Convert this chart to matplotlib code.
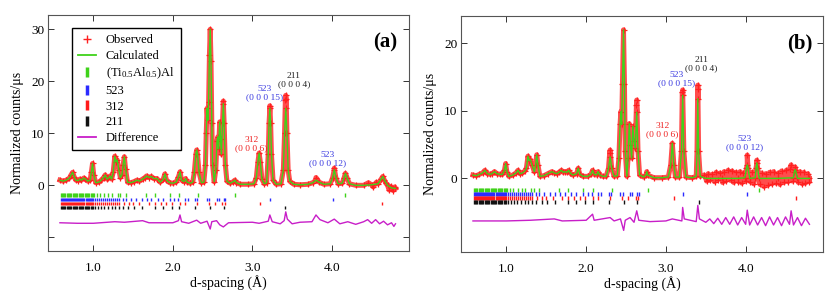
import matplotlib
matplotlib.use("Agg")
import matplotlib.pyplot as plt
from matplotlib.lines import Line2D

plt.rcParams['font.family'] = ['Liberation Serif', 'DejaVu Serif']
plt.rcParams['mathtext.fontset'] = 'custom'
plt.rcParams['mathtext.rm'] = 'Liberation Serif'
plt.rcParams['mathtext.it'] = 'Liberation Serif:italic'
plt.rcParams['mathtext.bf'] = 'Liberation Serif:bold'

# ---------------- data ----------------
# Panel (a): calculated profile (d-spacing, counts)
calc_a = [(0.58, 1.0), (0.62, 0.8), (0.66, 1.0), (0.70, 1.4), (0.72, 2.0), (0.74, 2.5), (0.76, 1.6),
          (0.78, 1.0), (0.81, 0.9), (0.83, 1.2), (0.85, 1.0), (0.88, 1.4), (0.90, 1.2), (0.93, 0.8),
          (0.96, 1.0), (0.975, 2.5), (0.99, 4.2), (1.005, 2.0), (1.03, 0.5), (1.07, 0.6), (1.10, 1.0),
          (1.13, 1.5), (1.15, 2.0), (1.17, 1.2), (1.19, 1.4), (1.21, 1.8), (1.23, 1.2), (1.25, 2.5),
          (1.27, 5.6), (1.285, 4.5), (1.30, 4.9), (1.32, 3.0), (1.34, 1.5), (1.36, 2.0), (1.375, 4.0),
          (1.39, 5.5), (1.405, 3.2), (1.43, 0.6), (1.47, 0.5), (1.51, 0.7), (1.55, 1.0), (1.58, 0.8),
          (1.62, 1.2), (1.65, 1.5), (1.67, 1.8), (1.70, 1.5), (1.73, 1.7), (1.76, 1.3), (1.80, 1.3),
          (1.84, 0.6), (1.88, 1.2), (1.90, 2.2), (1.92, 1.0), (1.96, 0.5), (2.00, 0.4), (2.04, 0.6),
          (2.07, 1.6), (2.09, 2.6), (2.11, 1.0), (2.14, 0.7), (2.16, 1.3), (2.18, 0.6), (2.22, 0.4),
          (2.25, 0.6), (2.27, 2.5), (2.29, 6.0), (2.30, 6.8), (2.31, 6.0), (2.33, 2.5), (2.36, 0.5),
          (2.39, 0.6), (2.41, 4.0), (2.42, 10.0), (2.43, 14.8), (2.44, 12.5), (2.45, 16.0), (2.46, 25.0),
          (2.47, 30.0), (2.48, 24.0), (2.49, 12.0), (2.50, 4.0), (2.52, 0.7), (2.54, 3.0), (2.555, 8.5),
          (2.565, 9.3), (2.575, 7.0), (2.59, 12.2), (2.60, 9.0), (2.61, 6.0), (2.625, 12.0),
          (2.635, 15.7), (2.645, 12.0), (2.66, 4.0), (2.68, 0.8), (2.72, 0.4), (2.76, 0.7), (2.78, 1.0),
          (2.80, 0.5), (2.85, 0.2), (2.95, 0.2), (3.02, 0.3), (3.05, 1.5), (3.07, 4.5), (3.085, 6.2),
          (3.10, 4.5), (3.12, 1.2), (3.15, 0.3), (3.18, 0.5), (3.20, 6.0), (3.21, 12.0), (3.22, 14.8),
          (3.23, 12.0), (3.24, 6.0), (3.26, 1.0), (3.30, 0.2), (3.36, 0.3), (3.39, 3.0), (3.405, 10.0),
          (3.42, 14.8), (3.435, 10.0), (3.45, 3.0), (3.47, 0.8), (3.52, 0.2), (3.60, 0.1), (3.70, 0.2),
          (3.76, 0.5), (3.80, 1.0), (3.84, 0.6), (3.90, 0.2), (3.98, 0.3), (4.01, 1.5), (4.03, 3.0),
          (4.05, 1.5), (4.08, 0.3), (4.13, 0.4), (4.155, 1.5), (4.17, 2.3), (4.19, 1.5), (4.22, 0.3),
          (4.30, 0.0), (4.40, 0.0), (4.50, 0.1), (4.58, 0.3), (4.62, 1.2), (4.64, 1.7), (4.66, 1.0),
          (4.70, 0.0), (4.75, -0.5), (4.80, -0.6)]
# Panel (a): observed points that differ from the calculated curve
obs_extra_a = [(2.635, 16.2), (3.22, 15.3), (3.415, 16.4), (3.42, 17.3), (3.425, 16.6), (3.80, 1.5),
               (4.03, 3.3), (4.46, 0.5), (4.52, -0.3), (4.56, 0.6), (4.68, 0.4), (4.72, -0.9),
               (4.74, -0.2), (4.77, -1.0), (4.79, -0.3)]
# Panel (a): difference curve
diff_a = [(0.58, -7.2), (0.80, -7.3), (1.00, -7.3), (1.27, -7.0), (1.39, -7.1), (1.62, -6.8),
          (1.70, -7.2), (2.00, -7.2), (2.07, -6.8), (2.09, -5.7), (2.11, -7.0), (2.20, -7.3),
          (2.30, -6.7), (2.35, -7.3), (2.43, -6.9), (2.47, -8.4), (2.49, -7.0), (2.55, -6.8),
          (2.59, -7.6), (2.635, -8.0), (2.70, -7.2), (3.00, -7.1), (3.085, -7.3), (3.20, -6.9),
          (3.22, -5.7), (3.25, -7.0), (3.35, -7.4), (3.40, -6.8), (3.42, -5.1), (3.44, -6.5),
          (3.50, -7.4), (3.60, -7.1), (3.75, -7.0), (3.80, -5.7), (3.85, -6.6), (3.95, -7.2),
          (4.03, -6.5), (4.10, -7.4), (4.20, -7.0), (4.30, -7.5), (4.40, -7.0), (4.45, -6.6),
          (4.50, -7.3), (4.55, -6.6), (4.60, -7.4), (4.65, -6.9), (4.70, -7.6), (4.75, -7.2),
          (4.78, -7.9), (4.80, -7.4)]

# Panel (b): calculated profile
calc_b = [(0.58, 0.5), (0.62, 0.4), (0.66, 0.6), (0.70, 0.8), (0.73, 1.2), (0.76, 0.7), (0.79, 0.6),
          (0.82, 0.7), (0.85, 1.0), (0.88, 0.7), (0.92, 0.6), (0.95, 0.6), (0.975, 1.2), (0.99, 2.2),
          (1.005, 1.0), (1.03, 0.3), (1.08, 0.5), (1.12, 0.8), (1.145, 1.2), (1.17, 0.7), (1.20, 0.8),
          (1.23, 1.1), (1.25, 1.5), (1.27, 3.3), (1.285, 2.6), (1.30, 2.8), (1.32, 2.0), (1.35, 1.0),
          (1.365, 2.0), (1.38, 3.5), (1.395, 2.0), (1.42, 0.3), (1.47, 0.4), (1.52, 0.7), (1.57, 1.0),
          (1.60, 0.8), (1.63, 0.7), (1.66, 0.9), (1.69, 1.2), (1.71, 0.9), (1.73, 1.0), (1.76, 0.9),
          (1.78, 1.2), (1.80, 0.8), (1.83, 0.5), (1.88, 0.7), (1.90, 1.5), (1.92, 0.6), (1.96, 0.3),
          (2.02, 0.3), (2.06, 0.6), (2.08, 1.2), (2.10, 0.6), (2.13, 0.5), (2.15, 1.0), (2.17, 0.5),
          (2.21, 0.3), (2.25, 0.3), (2.28, 1.5), (2.30, 3.2), (2.32, 1.5), (2.35, 0.3), (2.39, 0.4),
          (2.41, 3.0), (2.425, 8.0), (2.435, 9.9), (2.445, 8.0), (2.455, 14.0), (2.468, 22.0),
          (2.48, 14.0), (2.49, 4.0), (2.51, 0.3), (2.525, 3.0), (2.54, 8.1), (2.555, 5.0), (2.57, 3.0),
          (2.585, 7.7), (2.60, 5.5), (2.615, 4.5), (2.634, 9.8), (2.65, 4.0), (2.67, 0.5), (2.72, 0.2),
          (2.75, 0.5), (2.76, 1.0), (2.77, 0.5), (2.85, 0.1), (2.95, 0.1), (3.03, 0.2), (3.06, 2.0),
          (3.08, 5.2), (3.10, 2.0), (3.12, 0.2), (3.17, 0.2), (3.195, 4.0), (3.21, 12.3), (3.225, 4.0),
          (3.25, 0.2), (3.33, 0.1), (3.38, 0.3), (3.39, 4.0), (3.40, 11.8), (3.41, 4.0), (3.43, 0.3),
          (3.50, 0.0), (3.70, 0.0), (3.90, 0.0), (3.99, 0.1), (4.01, 1.5), (4.02, 2.0), (4.03, 1.5),
          (4.05, 0.0), (4.12, 0.1), (4.13, 1.5), (4.14, 2.3), (4.15, 1.5), (4.17, 0.0), (4.40, 0.0),
          (4.60, 0.1), (4.61, 1.0), (4.62, 1.3), (4.63, 1.0), (4.65, 0.0), (4.80, 0.0)]
# Panel (b): observed points that differ from the calculated curve (peak tops, noisy tail)
obs_extra_b = [(2.295, 3.8), (2.30, 4.2), (2.63, 10.8), (2.634, 11.6), (3.205, 12.8), (3.21, 13.1),
               (3.398, 13.3), (3.40, 13.8), (3.48, 0.5), (3.51, -0.4), (3.53, 0.7), (3.55, -0.3),
               (3.58, 0.6), (3.61, -0.5), (3.63, 0.9), (3.65, -0.2), (3.68, 0.8), (3.71, -0.6),
               (3.73, 1.0), (3.75, -0.4), (3.78, 1.2), (3.81, -0.3), (3.83, 1.1), (3.85, -0.6),
               (3.88, 0.9), (3.91, -0.5), (3.93, 1.0), (3.95, -0.7), (3.97, 0.8), (4.00, -0.4),
               (4.02, 3.45), (4.06, -0.5), (4.08, 0.9), (4.10, -0.8), (4.14, 2.7), (4.18, -0.9),
               (4.20, 0.8), (4.23, -1.2), (4.25, 0.7), (4.28, -1.0), (4.30, 0.9), (4.33, -0.8),
               (4.35, 1.0), (4.38, -0.7), (4.41, 0.8), (4.43, -0.9), (4.45, 1.1), (4.48, -0.6),
               (4.51, 1.2), (4.53, -0.5), (4.55, 1.4), (4.57, 2.0), (4.59, -0.4), (4.62, 1.7),
               (4.66, -0.6), (4.68, 1.0), (4.71, -0.8), (4.73, 0.9), (4.75, -0.7), (4.78, 0.7),
               (4.80, -0.5)]
# Panel (b): difference curve
diff_b = [(0.58, -6.3), (1.00, -6.3), (1.30, -6.2), (1.60, -6.0), (1.70, -6.3), (2.00, -6.2),
          (2.08, -5.3), (2.10, -6.2), (2.30, -5.8), (2.35, -6.3), (2.43, -6.0), (2.47, -7.7),
          (2.49, -6.2), (2.55, -5.8), (2.60, -6.5), (2.634, -4.8), (2.66, -6.2), (2.80, -6.4),
          (3.00, -6.3), (3.08, -6.0), (3.20, -6.3), (3.21, -4.3), (3.23, -6.0), (3.38, -6.4),
          (3.40, -4.0), (3.42, -6.0), (3.50, -6.5), (3.55, -6.0), (3.60, -6.7), (3.65, -5.9),
          (3.70, -6.8), (3.75, -5.8), (3.80, -6.8), (3.85, -5.7), (3.90, -6.9), (3.95, -5.8),
          (4.00, -6.8), (4.02, -4.7), (4.05, -6.9), (4.10, -5.7), (4.15, -6.9), (4.20, -5.8),
          (4.25, -7.0), (4.30, -5.7), (4.35, -6.9), (4.40, -5.8), (4.45, -7.0), (4.50, -5.7),
          (4.55, -6.8), (4.57, -4.8), (4.60, -6.9), (4.65, -5.8), (4.70, -7.0), (4.75, -5.9),
          (4.80, -6.8)]

# Reflection positions of the four phases (same in both panels)
refl_tial = [0.59, 0.605, 0.62, 0.635, 0.65, 0.665, 0.68, 0.695, 0.71, 0.725, 0.74, 0.755, 0.77,
             0.785, 0.80, 0.815, 0.83, 0.845, 0.86, 0.875, 0.89, 0.905, 0.92, 0.935, 0.95, 0.965,
             0.98, 0.995, 1.01, 1.04, 1.08, 1.14, 1.19, 1.23, 1.31, 1.34, 1.41, 1.66, 1.77, 1.96,
             2.08, 2.32, 2.78, 4.17]
refl_523 = [0.59, 0.603, 0.616, 0.629, 0.642, 0.655, 0.668, 0.681, 0.694, 0.707, 0.72, 0.733, 0.746,
            0.759, 0.772, 0.785, 0.798, 0.811, 0.824, 0.837, 0.85, 0.863, 0.876, 0.889, 0.902, 0.915,
            0.928, 0.941, 0.954, 0.967, 0.98, 0.993, 1.02, 1.045, 1.07, 1.095, 1.12, 1.145, 1.17,
            1.195, 1.22, 1.245, 1.27, 1.295, 1.32, 1.37, 1.41, 1.47, 1.54, 1.61, 1.67, 1.73, 1.81,
            1.87, 1.96, 2.02, 2.07, 2.15, 2.19, 2.28, 2.31, 2.43, 2.46, 2.55, 2.58, 2.64, 2.66,
            3.22, 4.02]
refl_312 = [0.59, 0.603, 0.616, 0.629, 0.642, 0.655, 0.668, 0.681, 0.694, 0.707, 0.72, 0.733, 0.746,
            0.759, 0.772, 0.785, 0.798, 0.811, 0.824, 0.837, 0.85, 0.863, 0.876, 0.889, 0.902, 0.915,
            0.928, 0.941, 0.954, 0.967, 0.98, 0.993, 1.02, 1.045, 1.07, 1.095, 1.12, 1.145, 1.17,
            1.195, 1.22, 1.245, 1.27, 1.295, 1.32, 1.38, 1.45, 1.50, 1.58, 1.70, 1.77, 1.85, 1.92,
            1.99, 2.09, 2.15, 2.30, 2.45, 2.53, 2.62, 2.65, 3.10, 4.63]
refl_211 = [0.59, 0.605, 0.62, 0.635, 0.65, 0.665, 0.68, 0.695, 0.71, 0.725, 0.74, 0.755, 0.77,
            0.785, 0.80, 0.815, 0.83, 0.845, 0.86, 0.875, 0.89, 0.905, 0.92, 0.935, 0.95, 0.965,
            0.98, 0.995, 1.02, 1.06, 1.10, 1.13, 1.18, 1.23, 1.27, 1.32, 1.37, 1.44, 1.51, 1.61,
            1.77, 1.87, 1.99, 2.08, 2.28, 2.47, 2.64, 3.41]

phase_names = ['(Ti$_{0.5}$Al$_{0.5}$)Al', '523', '312', '211']
annot_text = ['523\n(0 0 0 15)', '211\n(0 0 0 4)', '312\n(0 0 0 6)', '523\n(0 0 0 12)']
annot_a_xy = [(3.15, 17.7), (3.52, 20.2), (2.99, 7.9), (3.94, 5.0)]
annot_b_xy = [(3.13, 14.7), (3.44, 16.9), (2.955, 7.2), (3.99, 5.2)]
panel_labels = ['(a)', '(b)']

# ---------------- styling ----------------
RED = '#ff2020'
GREEN = '#3fd21a'
BLUE = '#2b2bff'
TRED = '#ff1a1a'
BLACK = '#111111'
MAG = '#c81ec8'
ANN_COL = ['#3a3ae0', '#222222', '#ee2222', '#3a3ae0']
phase_cols = [GREEN, BLUE, TRED, BLACK]

fig = plt.figure(figsize=(8.31, 2.98), dpi=100)
ax_a = fig.add_axes([48 / 831, (298 - 251) / 298, 361 / 831, 236 / 298])
ax_b = fig.add_axes([461 / 831, (298 - 252) / 298, 362 / 831, 236 / 298])


def draw(ax, calc, obs_extra, diff, rows, tick_h, ylim, yticks, ylabels, ann_xy, label):
    cx = [p[0] for p in calc]
    cy = [p[1] for p in calc]
    obs = sorted(calc + obs_extra)
    ox = [p[0] for p in obs]
    oy = [p[1] for p in obs]
    ax.plot(ox, oy, color=RED, lw=3.6, alpha=0.8, zorder=2)
    ax.plot(ox, oy, ls='None', marker='+', ms=5, mew=0.9, color=RED, zorder=2)
    ax.plot(cx, cy, color=GREEN, lw=1.0, zorder=3)
    # reflection markers
    for refl, row, col in zip([refl_tial, refl_523, refl_312, refl_211], rows, phase_cols):
        ax.vlines(refl, row - tick_h / 2, row + tick_h / 2, colors=col, lw=1.0, zorder=2)
    dx = [p[0] for p in diff]
    dy = [p[1] for p in diff]
    ax.plot(dx, dy, color=MAG, lw=1.0, zorder=2)
    for (x, y), t, c in zip(ann_xy, annot_text, ANN_COL):
        ax.text(x, y, t, color=c, fontsize=6.8, ha='center', va='center', linespacing=1.05)
    ax.text(0.935, 0.885, label, transform=ax.transAxes, fontsize=15, fontweight='bold',
            ha='center', va='center')
    ax.set_xlim(0.43, 4.97)
    ax.set_ylim(*ylim)
    ax.set_xticks([1, 2, 3, 4])
    ax.set_xticklabels(['1.0', '2.0', '3.0', '4.0'])
    ax.set_yticks(yticks)
    ax.set_yticklabels(ylabels)
    ax.tick_params(direction='in', top=True, right=True, length=4.5, width=0.7,
                   labelsize=9.5, colors='#333333', labelcolor='black')
    ax.tick_params(axis='x', pad=8)
    ax.tick_params(axis='y', pad=2.5)
    for s in ax.spines.values():
        s.set_color('#555555')
        s.set_linewidth(0.8)
    ax.set_xlabel('d-spacing (Å)', fontsize=10, labelpad=1)
    ax.set_ylabel('Normalized counts/μs', fontsize=10, labelpad=5)


draw(ax_a, calc_a, obs_extra_a, diff_a, [-1.87, -2.7, -3.5, -4.3], 0.7,
     (-12.63, 32.75), [-10, 0, 10, 20, 30], ['', '0', '10', '20', '30'], annot_a_xy, panel_labels[0])
draw(ax_b, calc_b, obs_extra_b, diff_b, [-1.73, -2.33, -2.92, -3.51], 0.5,
     (-10.9, 24.05), [0, 10, 20], ['0', '10', '20'], annot_b_xy, panel_labels[1])

handles = [Line2D([], [], ls='None', marker='+', ms=6, mew=1.0, color=RED),
           Line2D([], [], color=GREEN, lw=1.3)]
for col in phase_cols:
    handles.append(Line2D([], [], ls='None', marker='|', ms=7, mew=2.5, color=col))
handles.append(Line2D([], [], color=MAG, lw=1.3))
leg = ax_a.legend(handles, ['Observed', 'Calculated'] + phase_names + ['Difference'],
                  loc='upper left', bbox_to_anchor=(0.066, 0.945), borderaxespad=0,
                  fontsize=9, frameon=True, fancybox=False, framealpha=1, edgecolor='black',
                  handlelength=1.4, handletextpad=0.8, labelspacing=0.3, borderpad=0.5)
leg.get_frame().set_linewidth(1.0)

fig.savefig('out.png', dpi=100)
